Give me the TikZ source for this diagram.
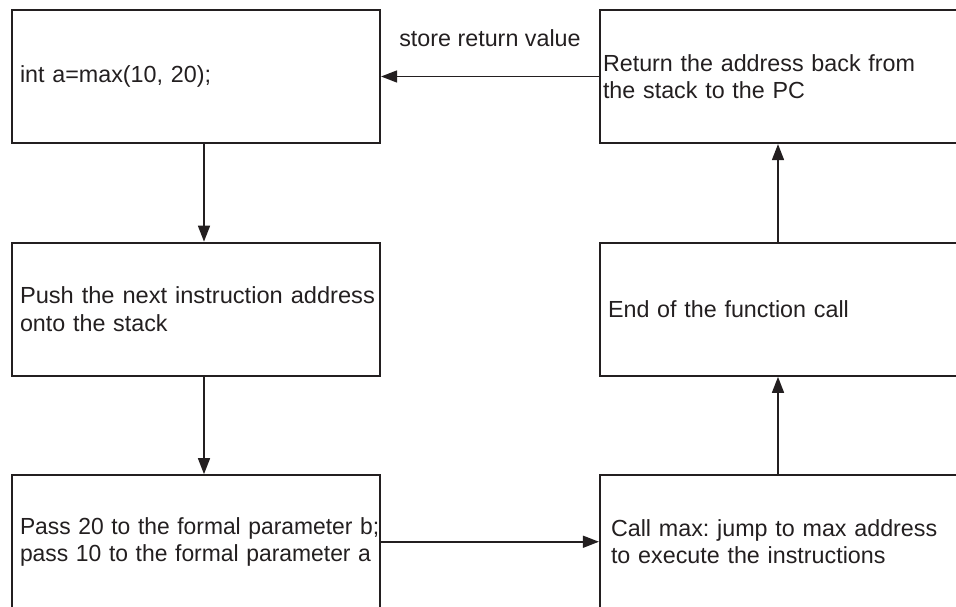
\documentclass[tikz,border=0pt]{standalone}
\usepackage{fontspec}
\setmainfont{Liberation Sans}
\usetikzlibrary{arrows.meta}
\definecolor{ink}{HTML}{231F20}
\frenchspacing
\begin{document}
\begin{tikzpicture}[x=1pt,y=-1pt,
  txt/.style={text=ink, font=\fontsize{23.3}{27.5}\selectfont\frenchspacing},
  box/.style={txt, draw=ink, line width=2.2pt, rectangle, minimum height=133pt, align=left, inner ysep=0pt},
  lbox/.style={box, minimum width=368pt, text width=352pt, inner xsep=8pt},
  rbox/.style={box, minimum width=362pt},
  arr/.style={draw=ink, line width=1.6pt, -{Triangle[length=16pt,width=12pt]}},
  lbl/.style={txt, inner sep=0pt}]
\useasboundingbox (0,0) rectangle (956,607);
\clip (0,0) rectangle (956,607);
\coordinate (lx) at (204,0);
\coordinate (rx) at (778,0);
\node[lbox] (call) at (196,76.5) {int a=max(10, 20);};
\node[lbox] (push) at (196,309.25) {\scalebox{1.015}[1]{Push the next instruction address}\\onto the stack};
\node[lbox] (pass) at (196,541.75) {\scalebox{0.98}[1]{Pass 20 to the formal parameter b;}\\\scalebox{0.982}[1]{pass 10 to the formal parameter a}};
\node[rbox, text width=356pt, inner xsep=3pt] (ret) at (781,76.5) {\makebox[350pt][s]{Return the address back from}\\the stack to the PC};
\node[rbox, text width=346pt, inner xsep=8pt] (endc) at (781,309.25) {End of the function call};
\node[rbox, text width=340pt, inner xsep=11pt] (jump) at (781,541.75) {\makebox[340pt][s]{Call max: jump to max address}\\to execute the instructions};
\draw[arr] (call.south -| lx) -- (push.north -| lx);
\draw[arr] (push.south -| lx) -- (pass.north -| lx);
\draw[arr] (pass.east) -- (jump.west);
\draw[arr] (jump.north -| rx) -- (endc.south -| rx);
\draw[arr] (endc.north -| rx) -- (ret.south -| rx);
\draw[arr] (ret.west) -- node[lbl, above=29pt] (lab) {store return value} (call.east);
\end{tikzpicture}
\end{document}
